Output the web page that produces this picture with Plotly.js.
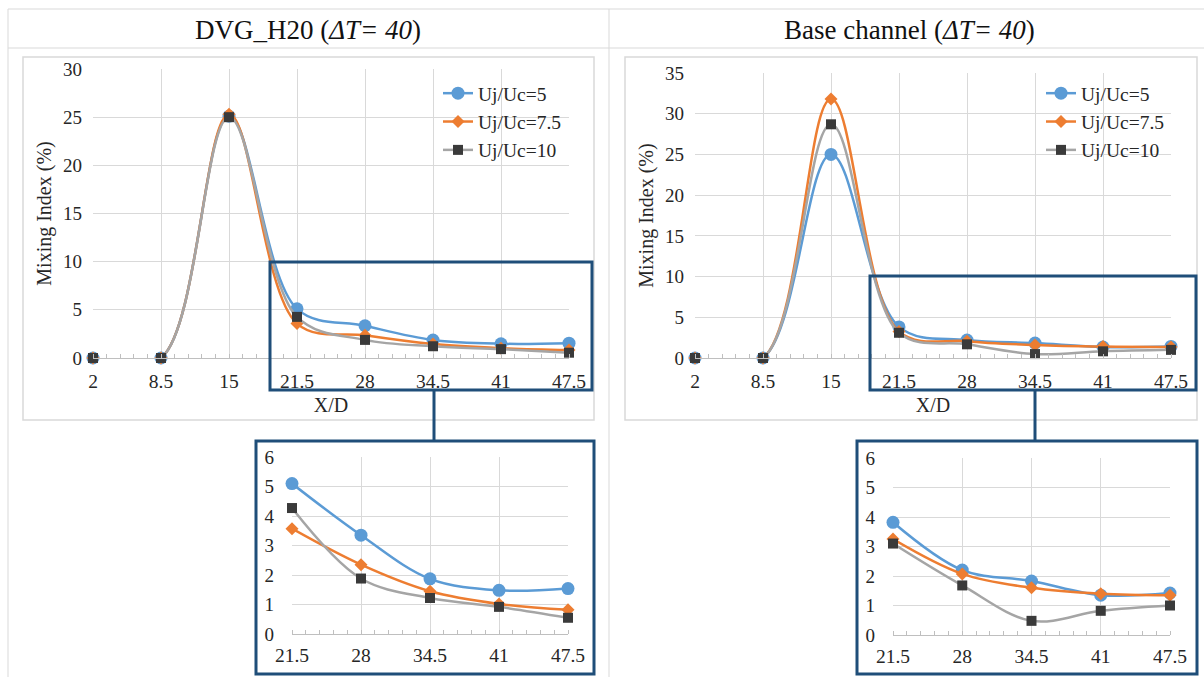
<!DOCTYPE html>
<html>
<head>
<meta charset="utf-8">
<script src="https://cdn.plot.ly/plotly-3.0.1.min.js"></script>
<style>html,body{margin:0;padding:0;background:#fff;}#chart{width:1204px;height:677px;}</style>
</head>
<body>
<div id="chart"></div>
<script>
// ---- data ----
const xd = [2, 8.5, 15, 21.5, 28, 34.5, 41, 47.5];
const xTickLabels = ["2", "8.5", "15", "21.5", "28", "34.5", "41", "47.5"];
const seriesNames = ["Uj/Uc=5", "Uj/Uc=7.5", "Uj/Uc=10"];

const dvg_u5   = [0, 0, 25.1, 5.1, 3.35, 1.87, 1.48, 1.54];
const dvg_u75  = [0, 0, 25.3, 3.57, 2.35, 1.45, 1.02, 0.82];
const dvg_u10  = [0, 0, 25.0, 4.27, 1.88, 1.22, 0.92, 0.55];

const base_u5  = [0, 0, 25.0, 3.82, 2.2, 1.83, 1.35, 1.42];
const base_u75 = [0, 0, 31.8, 3.25, 2.07, 1.6, 1.4, 1.35];
const base_u10 = [0, 0, 28.7, 3.1, 1.68, 0.48, 0.82, 1.0];

const zoomStart = 3; // index of 21.5

// ---- styling ----
const W = 1204, H = 677;
const px = x => x / W;
const py = y => 1 - y / H;
const FONT = '"Liberation Serif", "Times New Roman", serif';
const TXT = "#262626";
const colors = ["#5B9BD5", "#ED7D31", "#A5A5A5"];
const markerColors = ["#5B9BD5", "#ED7D31", "#3A3A3A"];
const symbols = ["circle", "diamond", "square"];
const sizes = [13, 10, 10];
const GRID = "#D9D9D9";
const AX = "#BFBFBF";
const NAVY = "#1F4E79";

const traces = [];
function addSet(ys, xa, ya, legend, showleg, sub) {
  ys.forEach((y, i) => {
    traces.push({
      x: sub ? xd.slice(zoomStart) : xd,
      y: sub ? y.slice(zoomStart) : y,
      type: "scatter", mode: "lines+markers",
      name: seriesNames[i],
      xaxis: xa, yaxis: ya, legend: legend,
      legendgroup: legend + i,
      showlegend: showleg,
      cliponaxis: false,
      line: {color: colors[i], width: 2.5, shape: "spline", smoothing: 1},
      marker: {color: markerColors[i], symbol: symbols[i], size: sizes[i]}
    });
  });
}
addSet([dvg_u5, dvg_u75, dvg_u10], "x", "y", "legend", true, false);
addSet([base_u5, base_u75, base_u10], "x2", "y2", "legend2", true, false);
addSet([dvg_u5, dvg_u75, dvg_u10], "x3", "y3", "legend", false, true);
addSet([base_u5, base_u75, base_u10], "x4", "y4", "legend2", false, true);

function xAxis(x0, x1, anchor, full, title) {
  return {
    domain: [px(x0), px(x1)], anchor: anchor,
    range: full ? [2, 47.5] : [21.5, 47.5],
    tickmode: "array",
    tickvals: full ? xd : xd.slice(zoomStart),
    ticktext: full ? xTickLabels : xTickLabels.slice(zoomStart),
    showgrid: true, gridcolor: GRID, gridwidth: 1,
    showline: true, linecolor: AX, linewidth: 1,
    ticks: "", zeroline: false,
    tickfont: {family: FONT, size: 19.5, color: TXT}, ticklabelstandoff: full ? 6 : 4,
    minor: {tick0: 2, dtick: 1.3, ticks: "inside", ticklen: 4, tickcolor: AX, showgrid: false},
    title: title ? {text: "X/D", font: {family: FONT, size: 20, color: TXT}, standoff: 6} : {text: ""},
    fixedrange: true
  };
}
function yAxis(y0, y1, anchor, range, dtick, title) {
  return {
    domain: [py(y0), py(y1)], anchor: anchor,
    range: range, dtick: dtick, tick0: 0,
    showgrid: true, gridcolor: GRID, gridwidth: 1,
    showline: false, zeroline: false, ticks: "",
    tickfont: {family: FONT, size: 19, color: TXT}, ticklabelstandoff: title ? 10 : 17,
    title: title ? {text: "Mixing Index (%)", font: {family: FONT, size: 20, color: TXT}, standoff: 6} : {text: ""},
    fixedrange: true
  };
}

function legendAt(x, y) {
  return {
    x: x, y: y,
    bgcolor: "rgba(0,0,0,0)", borderwidth: 0,
    font: {family: FONT, size: 19.5, color: TXT},
    traceorder: "grouped", tracegroupgap: 0,
    xanchor: "left", yanchor: "top"
  };
}

const line = (x0, y0, x1, y1, color, width) => ({
  type: "line", xref: "paper", yref: "paper",
  x0: px(x0), y0: py(y0), x1: px(x1), y1: py(y1),
  line: {color: color, width: width}
});
const rect = (x0, y0, x1, y1, color, width) => ({
  type: "rect", xref: "paper", yref: "paper",
  x0: px(x0), y0: py(y0), x1: px(x1), y1: py(y1),
  line: {color: color, width: width}, fillcolor: "rgba(0,0,0,0)"
});
const TBL = "#D9D9D9";

const layout = {
  width: W, height: H,
  font: {family: FONT, size: 19, color: TXT},
  margin: {l: 0, r: 0, t: 0, b: 0},
  paper_bgcolor: "#fff", plot_bgcolor: "rgba(0,0,0,0)",
  xaxis:  xAxis(93, 569, "y", true, true),
  yaxis:  yAxis(358, 69, "x", [0, 30], 5, true),
  xaxis2: xAxis(695, 1171, "y2", true, true),
  yaxis2: yAxis(358, 73, "x2", [0, 35], 5, true),
  xaxis3: xAxis(292, 568, "y3", false, false),
  yaxis3: yAxis(634, 457, "x3", [0, 6], 1, false),
  xaxis4: xAxis(893, 1170, "y4", false, false),
  yaxis4: yAxis(635, 458, "x4", [0, 6], 1, false),
  legend:  legendAt(px(438), py(74)),
  legend2: legendAt(px(1041), py(74)),
  showlegend: true,
  annotations: [
    {xref: "paper", yref: "paper", x: px(308), y: py(30), xanchor: "center", yanchor: "middle",
     text: "DVG_H20 (<i>ΔT= 40</i>)", showarrow: false, font: {family: FONT, size: 27, color: "#111"}},
    {xref: "paper", yref: "paper", x: px(909), y: py(30), xanchor: "center", yanchor: "middle",
     text: "Base channel (<i>ΔT= 40</i>)", showarrow: false, font: {family: FONT, size: 27, color: "#111"}}
  ],
  shapes: [
    line(8, 9, 1204, 9, TBL, 1),
    line(8, 48, 1204, 48, TBL, 1),
    line(8, 9, 8, 677, TBL, 1),
    line(609, 9, 609, 677, TBL, 1),
    rect(23, 57, 594, 420, TBL, 1.5),
    rect(625, 57, 1197, 420, TBL, 1.5),
    rect(270, 262, 592, 390, NAVY, 3),
    rect(870, 276, 1196, 390, NAVY, 3),
    line(434, 390, 434, 441, NAVY, 3),
    line(1035, 390, 1035, 441, NAVY, 3),
    rect(256, 441, 594, 674, NAVY, 3),
    rect(857, 441, 1197, 674, NAVY, 3)
  ]
};

Plotly.newPlot("chart", traces, layout, {displayModeBar: false, staticPlot: true});
</script>
</body>
</html>
